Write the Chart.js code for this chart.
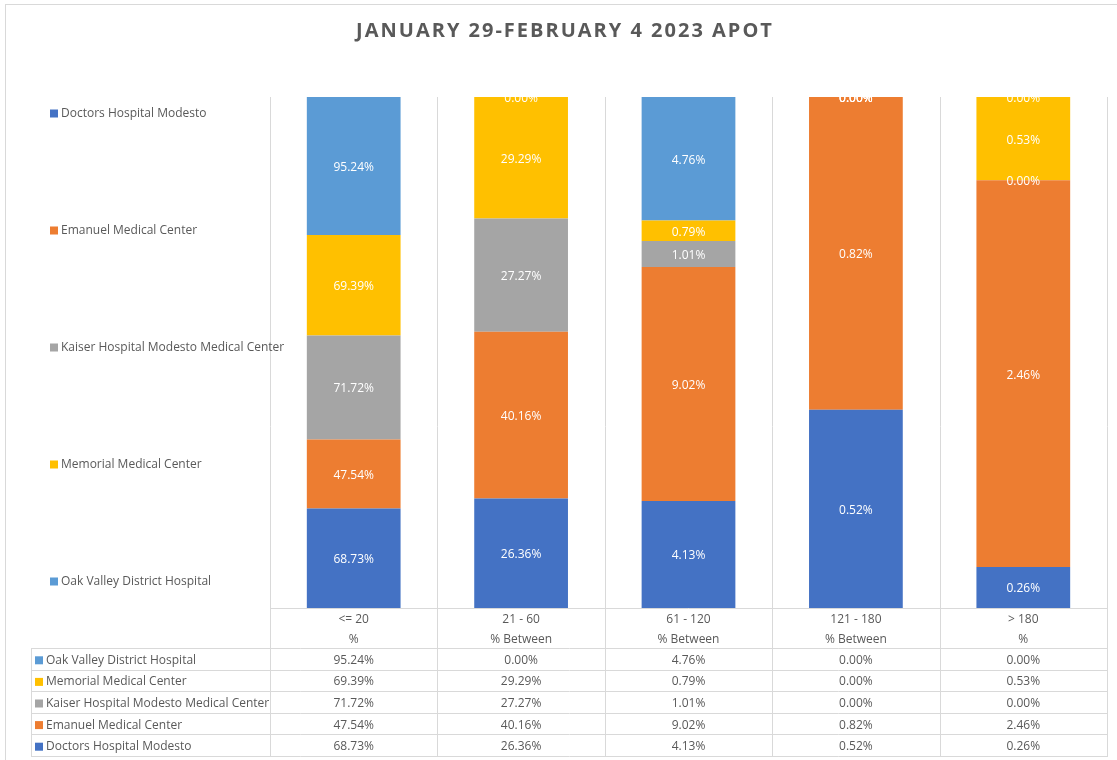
<!DOCTYPE html>
<html>
<head>
<meta charset="utf-8">
<script src="https://cdn.jsdelivr.net/npm/chart.js@4.4.0/dist/chart.umd.min.js"></script>
<style>
  html, body { margin: 0; padding: 0; background: #fff; }
  #wrap { width: 1117px; height: 760px; position: relative; }
</style>
</head>
<body>
<div id="wrap"><canvas id="c"></canvas></div>
<script>
// categories and second header line of the data table
const categories = ['<= 20', '21 - 60', '61 - 120', '121 - 180', '> 180'];
const subLabels = ['%', '% Between', '% Between', '% Between', '%'];

// values per hospital (percent)
const doctors = [68.73, 26.36, 4.13, 0.52, 0.26];
const emanuel = [47.54, 40.16, 9.02, 0.82, 2.46];
const kaiser = [71.72, 27.27, 1.01, 0.00, 0.00];
const memorial = [69.39, 29.29, 0.79, 0.00, 0.53];
const oakValley = [95.24, 0.00, 4.76, 0.00, 0.00];

const seriesNames = ['Doctors Hospital Modesto', 'Emanuel Medical Center', 'Kaiser Hospital Modesto Medical Center', 'Memorial Medical Center', 'Oak Valley District Hospital'];
const seriesValues = [doctors, emanuel, kaiser, memorial, oakValley];
const seriesColors = ['#4472C4', '#ED7D31', '#A5A5A5', '#FFC000', '#5B9BD5'];

const TEXT = '#595959';
const GRID = '#D9D9D9';
const FONT = '"Open Sans", "Noto Sans", sans-serif';

// 100% stacked: each column is shared out by its total
const totals = categories.map((_, i) => seriesValues.reduce((s, v) => s + v[i], 0));

const datasets = seriesNames.map((name, k) => ({
  label: name,
  data: seriesValues[k].map((v, i) => totals[i] ? v / totals[i] * 100 : 0),
  rawValues: seriesValues[k],
  backgroundColor: seriesColors[k],
  borderWidth: 0,
  categoryPercentage: 1,
  barPercentage: 0.56
}));

const fmt = v => v.toFixed(2) + '%';

const excelLook = {
  id: 'excelLook',
  beforeDraw(chart) {
    const ctx = chart.ctx, area = chart.chartArea, x = chart.scales.x;
    const n = categories.length;
    const step = x.getPixelForValue(1) - x.getPixelForValue(0);
    const left0 = x.getPixelForValue(0) - step / 2;
    const tableTop = area.bottom;
    const headH = 40, rowH = 21.6;
    const tableLeft = 31;
    const rowsTop = tableTop + headH;
    const tableBottom = rowsTop + rowH * seriesNames.length;

    ctx.save();
    ctx.strokeStyle = GRID;
    ctx.lineWidth = 1;
    ctx.strokeRect(5.5, 4.5, 1130, 780);

    // title
    ctx.fillStyle = TEXT;
    ctx.font = 'bold 20px ' + FONT;
    ctx.textAlign = 'center';
    ctx.textBaseline = 'middle';
    ctx.letterSpacing = '2px';
    ctx.fillText('JANUARY 29-FEBRUARY 4 2023 APOT', 565, 31);
    ctx.letterSpacing = '0px';

    // vertical lines through plot and table
    ctx.beginPath();
    for (let i = 0; i <= n; i++) {
      const px = Math.round(left0 + i * step) + 0.5;
      ctx.moveTo(px, area.top);
      ctx.lineTo(px, tableBottom);
    }
    ctx.moveTo(tableLeft + 0.5, rowsTop);
    ctx.lineTo(tableLeft + 0.5, tableBottom);
    // horizontal lines
    const hx = Math.round(tableTop) + 0.5;
    ctx.moveTo(Math.round(left0), hx);
    ctx.lineTo(Math.round(left0 + n * step), hx);
    for (let r = 0; r <= seriesNames.length; r++) {
      const py = Math.round(rowsTop + r * rowH) + 0.5;
      ctx.moveTo(tableLeft, py);
      ctx.lineTo(Math.round(left0 + n * step) + 1, py);
    }
    ctx.stroke();

    // table header
    ctx.font = '12px ' + FONT;
    ctx.fillStyle = TEXT;
    categories.forEach((c, i) => {
      const cx = x.getPixelForValue(i);
      ctx.fillText(c, cx, tableTop + 12);
      ctx.fillText(subLabels[i], cx, tableTop + 32);
    });

    // table rows (top row is the last series)
    for (let r = 0; r < seriesNames.length; r++) {
      const k = seriesNames.length - 1 - r;
      const cy = rowsTop + r * rowH + rowH / 2 + 1.5;
      ctx.fillStyle = seriesColors[k];
      ctx.fillRect(35, cy - 4, 8, 8);
      ctx.fillStyle = TEXT;
      ctx.textAlign = 'left';
      ctx.fillText(seriesNames[k], 46, cy);
      ctx.textAlign = 'center';
      seriesValues[k].forEach((v, i) => {
        ctx.fillText(fmt(v), x.getPixelForValue(i), cy);
      });
    }

    // legend down the left side
    const lStep = (area.bottom - area.top - 43) / (seriesNames.length - 1);
    seriesNames.forEach((name, k) => {
      const cy = area.top + 16.5 + k * lStep;
      ctx.fillStyle = seriesColors[k];
      ctx.fillRect(50, cy - 4, 8, 8);
      ctx.fillStyle = TEXT;
      ctx.textAlign = 'left';
      ctx.fillText(name, 61, cy);
    });
    ctx.restore();
  },
  afterDatasetsDraw(chart) {
    const ctx = chart.ctx, area = chart.chartArea;
    ctx.save();
    ctx.beginPath();
    ctx.rect(area.left, area.top, area.right - area.left, area.bottom - area.top);
    ctx.clip();
    ctx.fillStyle = '#FFFFFF';
    ctx.font = '12px ' + FONT;
    ctx.textAlign = 'center';
    ctx.textBaseline = 'middle';
    chart.data.datasets.forEach((ds, k) => {
      const meta = chart.getDatasetMeta(k);
      meta.data.forEach((bar, i) => {
        const cy = (bar.y + bar.base) / 2 + 1.5;
        ctx.fillText(fmt(ds.rawValues[i]), bar.x, cy);
      });
    });
    ctx.restore();
  }
};

new Chart(document.getElementById('c'), {
  type: 'bar',
  data: { labels: categories, datasets: datasets },
  options: {
    responsive: true,
    maintainAspectRatio: false,
    animation: false,
    layout: { padding: { left: 270, right: 10, top: 97, bottom: 152 } },
    scales: {
      x: { stacked: true, display: false },
      y: { stacked: true, display: false, min: 0, max: 100 }
    },
    plugins: {
      legend: { display: false },
      title: { display: false },
      tooltip: { enabled: false }
    }
  },
  plugins: [excelLook]
});
</script>
</body>
</html>
